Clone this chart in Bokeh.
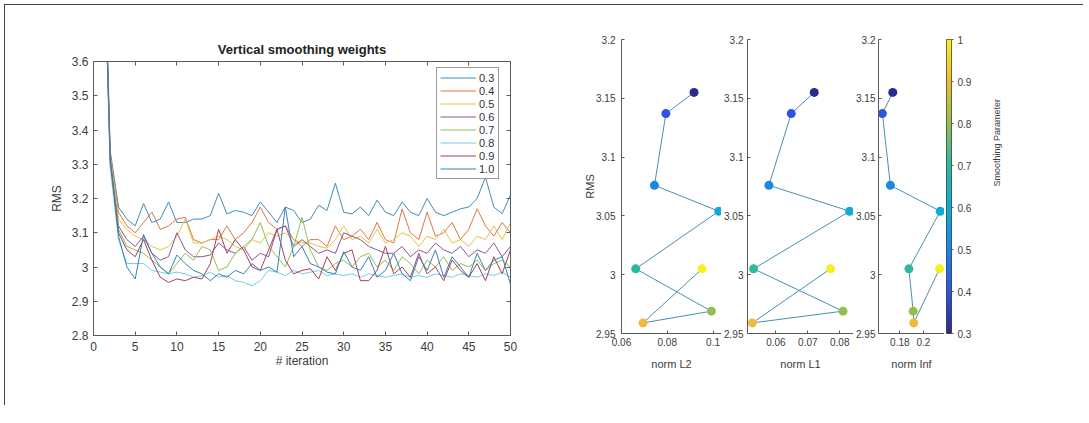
import math
import numpy as np
from bokeh.plotting import figure
from bokeh.models import (FixedTicker, LinearAxis, Range1d, Legend, LegendItem,
                          ColumnDataSource, LinearColorMapper, Spacer, NumeralTickFormatter,
                          CustomLabelingPolicy)
from bokeh.layouts import row, column
from bokeh.transform import linear_cmap
from bokeh.embed import file_html
from bokeh.resources import INLINE

# ---------------- data: left chart ----------------
iterations = list(range(1, 51))
series_names = ["0.3", "0.4", "0.5", "0.6", "0.7", "0.8", "0.9", "1.0"]

rms_w03 = [4.25, 3.34, 3.175, 3.14, 3.12, 3.185, 3.13, 3.14, 3.19, 3.13,
           3.13, 3.14, 3.14, 3.15, 3.215, 3.155, 3.165, 3.16, 3.15, 3.19,
           3.16, 3.13, 3.175, 3.165, 3.13, 3.14, 3.18, 3.165, 3.245, 3.16,
           3.155, 3.175, 3.15, 3.195, 3.16, 3.15, 3.19, 3.16, 3.15, 3.20,
           3.16, 3.15, 3.16, 3.17, 3.175, 3.20, 3.262, 3.175, 3.156, 3.21]
rms_w04 = [4.22, 3.33, 3.16, 3.12, 3.10, 3.13, 3.16, 3.11, 3.12, 3.14,
           3.145, 3.08, 3.07, 3.08, 3.08, 3.12, 3.08, 3.10, 3.13, 3.175,
           3.13, 3.11, 3.12, 3.08, 3.06, 3.08, 3.08, 3.06, 3.12, 3.08,
           3.09, 3.11, 3.08, 3.13, 3.08, 3.07, 3.17, 3.10, 3.08, 3.16,
           3.09, 3.10, 3.13, 3.08, 3.11, 3.17, 3.12, 3.09, 3.13, 3.10]
rms_w05 = [4.21, 3.32, 3.14, 3.11, 3.09, 3.08, 3.06, 3.05, 3.06, 3.09,
           3.14, 3.07, 3.07, 3.08, 3.09, 3.08, 3.06, 3.05, 3.08, 3.07,
           3.10, 3.09, 3.10, 3.08, 3.07, 3.07, 3.06, 3.055, 3.08, 3.12,
           3.08, 3.09, 3.07, 3.11, 3.07, 3.08, 3.10, 3.09, 3.06, 3.09,
           3.08, 3.11, 3.07, 3.08, 3.06, 3.09, 3.08, 3.12, 3.08, 3.13]
rms_w06 = [4.20, 3.31, 3.12, 3.08, 3.06, 3.09, 3.04, 3.02, 3.03, 3.10,
           3.05, 3.03, 3.03, 3.035, 3.07, 3.05, 3.04, 3.06, 3.02, 3.04,
           3.03, 3.11, 3.12, 3.06, 3.08, 3.06, 3.04, 3.05, 3.04, 3.10,
           3.09, 3.08, 3.06, 3.05, 3.04, 3.04, 3.06, 3.03, 3.05, 3.04,
           3.07, 3.05, 3.04, 3.06, 3.03, 3.05, 3.04, 3.07, 3.03, 3.06]
rms_w07 = [4.19, 3.30, 3.11, 3.06, 3.05, 3.04, 3.02, 3.00, 2.98, 3.01,
           3.04, 3.02, 3.06, 3.05, 2.99, 3.00, 3.04, 3.06, 3.08, 3.13,
           3.06, 3.03, 3.00, 3.06, 3.145, 3.05, 3.00, 2.99, 3.01, 3.02,
           3.00, 3.03, 3.04, 3.00, 3.02, 2.99, 3.03, 3.01, 2.98, 3.02,
           3.00, 3.03, 2.99, 3.01, 3.00, 3.02, 2.99, 3.01, 3.02, 3.00]
rms_w08 = [4.18, 3.29, 3.08, 3.01, 3.01, 3.01, 2.99, 2.985, 2.98, 2.985,
           2.98, 2.97, 2.975, 2.985, 2.97, 2.975, 2.96, 2.955, 2.945, 2.96,
           2.99, 2.985, 2.975, 2.99, 2.98, 2.985, 2.99, 2.975, 2.98, 2.975,
           2.98, 2.97, 2.98, 2.975, 2.97, 2.975, 2.98, 2.97, 2.975, 2.97,
           2.98, 2.975, 2.97, 2.98, 2.975, 2.97, 2.98, 2.975, 2.985, 2.97]
rms_w09 = [4.20, 3.31, 3.10, 3.05, 3.03, 3.08, 3.02, 2.97, 2.955, 2.965,
           2.96, 2.97, 2.965, 3.01, 3.11, 3.04, 3.08, 3.05, 3.00, 2.99,
           3.05, 3.11, 3.02, 2.98, 2.99, 2.995, 2.965, 3.03, 2.99, 3.04,
           3.05, 2.96, 2.96, 2.99, 3.06, 2.98, 3.00, 2.97, 3.04, 2.98,
           3.00, 2.96, 3.02, 2.99, 2.97, 3.01, 2.96, 3.03, 2.98, 3.05]
rms_w10 = [4.21, 3.32, 3.09, 3.00, 2.965, 3.095, 3.04, 3.00, 2.98, 3.035,
           3.01, 2.99, 2.98, 2.96, 2.98, 2.97, 2.99, 2.98, 3.01, 2.99,
           3.00, 2.985, 3.175, 3.03, 3.06, 3.01, 3.00, 2.985, 2.98, 3.045,
           3.00, 2.99, 3.03, 2.97, 2.99, 3.04, 2.98, 2.96, 3.03, 2.99,
           3.05, 2.97, 3.03, 3.00, 2.97, 3.04, 2.99, 3.02, 3.03, 2.95]

left_x_ticks = [0, 5, 10, 15, 20, 25, 30, 35, 40, 45, 50]
left_y_ticks = [2.8, 2.9, 3.0, 3.1, 3.2, 3.3, 3.4, 3.5, 3.6]

# ---------------- data: right panels ----------------
smoothing = [0.3, 0.4, 0.5, 0.6, 0.7, 0.8, 0.9, 1.0]
rms_final = [3.155, 3.137, 3.076, 3.054, 3.005, 2.969, 2.959, 3.005]
norm_l2 = [0.0917, 0.0794, 0.0744, 0.1025, 0.0662, 0.0993, 0.0694, 0.0952]
norm_l1 = [0.0720, 0.0648, 0.0578, 0.0831, 0.0530, 0.0810, 0.0526, 0.0771]
norm_inf = [0.1740, 0.1652, 0.1720, 0.2143, 0.1877, 0.1913, 0.1918, 0.2137]

rms_ticks = [2.95, 3.0, 3.05, 3.1, 3.15, 3.2]
l2_ticks = [0.06, 0.08, 0.1]
l1_ticks = [0.06, 0.07, 0.08]
inf_ticks = [0.18, 0.2]
cbar_ticks = [0.3, 0.4, 0.5, 0.6, 0.7, 0.8, 0.9, 1.0]

# axis limits (a little room where the markers touch the edge)
l2_limits = (0.06, 0.1037)
l1_limits = (0.0511, 0.0843)
inf_limits = (0.1619, 0.2179)

# ---------------- styles ----------------
FONT = "Liberation Sans"
AXC = "#5a5a5a"
TXC = "#3c3c3c"
H = 400
line_colors = ["#3f8cbd", "#d87a42", "#e6c048", "#8a5794", "#95bd52", "#79c8eb", "#a6405a", "#3483b6"]
anchor_cols = ["#2c2a8a", "#2f55e0", "#1e85e0", "#10aad6", "#2db99a", "#92bf50", "#f0b93a", "#f5f020"]


def hex2rgb(h):
    return np.array([int(h[i:i + 2], 16) for i in (1, 3, 5)], dtype=float)


anc = np.array([hex2rgb(c) for c in anchor_cols])
tt = np.linspace(0, 1, len(anchor_cols))
palette = []
for t in np.linspace(0, 1, 256):
    rgb = [np.interp(t, tt, anc[:, k]) for k in range(3)]
    palette.append("#%02x%02x%02x" % tuple(int(round(v)) for v in rgb))
mapper = LinearColorMapper(palette=palette, low=0.3, high=1.0)
fmt = NumeralTickFormatter(format="0.[000]")


def style_axis(ax, ticks, fsize, standoff, tick_in=4, tick_out=0):
    ax.ticker = FixedTicker(ticks=ticks, minor_ticks=[])
    ax.formatter = fmt
    ax.axis_line_color = AXC
    ax.major_tick_line_color = AXC
    ax.major_tick_in = tick_in
    ax.major_tick_out = tick_out
    ax.minor_tick_line_color = None
    ax.major_label_text_font = FONT
    ax.major_label_text_font_size = fsize
    ax.major_label_text_color = TXC
    ax.major_label_standoff = standoff
    ax.axis_label_text_font = FONT
    ax.axis_label_text_font_style = "normal"
    ax.axis_label_text_color = TXC


# ---------------- left line chart ----------------
pA = figure(width=555, height=H, x_range=Range1d(0, 50), y_range=Range1d(2.8, 3.6),
            output_backend="svg", toolbar_location=None,
            min_border_left=88, min_border_right=50, min_border_top=56, min_border_bottom=70)
pA.grid.visible = False
pA.outline_line_color = AXC
pA.title.text = "Vertical smoothing weights"
pA.title.align = "center"
pA.title.text_font = FONT
pA.title.text_font_size = "13px"
pA.title.text_font_style = "bold"
pA.title.text_color = "#222222"
pA.title.standoff = 2

all_series = [rms_w03, rms_w04, rms_w05, rms_w06, rms_w07, rms_w08, rms_w09, rms_w10]
rends = []
for ys, col in zip(all_series, line_colors):
    rends.append(pA.line(iterations, ys, line_color=col, line_width=1))

style_axis(pA.xaxis[0], left_x_ticks, "12px", 6)
style_axis(pA.yaxis[0], left_y_ticks, "12px", 5)
pA.xaxis.axis_label = "# iteration"
pA.xaxis.axis_label_text_font_size = "12px"
pA.xaxis.axis_label_standoff = 0
pA.yaxis.axis_label = "RMS"
pA.yaxis.axis_label_text_font_size = "12px"
pA.yaxis.axis_label_standoff = 5

# box ticks on the top and right edges (no labels)
for place, tks in (("right", left_y_ticks), ("above", left_x_ticks)):
    hide_labels = CustomLabelingPolicy(code="""
for (const i of indices)
    indices.unset(i)
return indices
""")
    ax_b = LinearAxis()
    style_axis(ax_b, tks, "1px", 0)
    ax_b.major_label_policy = hide_labels
    pA.add_layout(ax_b, place)

legend = Legend(items=[LegendItem(label=n, renderers=[r]) for n, r in zip(series_names, rends)],
                location=(343, 156), orientation="vertical")
legend.border_line_color = "#333333"
legend.border_line_width = 1
legend.background_fill_color = "white"
legend.background_fill_alpha = 1
legend.padding = 3
legend.margin = 0
legend.spacing = 0
legend.glyph_width = 36
legend.glyph_height = 13
legend.label_height = 13
legend.label_width = 16
legend.label_standoff = 3
legend.label_text_font = FONT
legend.label_text_font_size = "11px"
legend.label_text_color = "#333333"
legend.label_text_line_height = 1.0
pA.add_layout(legend)


# ---------------- right scatter panels ----------------
def make_panel(xvals, limits, xticks, xlabel, mbl, frame_w, mbr, ystandoff, ylabel=None):
    p = figure(width=mbl + frame_w + mbr, height=H, x_range=Range1d(*limits),
               y_range=Range1d(2.95, 3.2),
               output_backend="svg", toolbar_location=None,
               min_border_left=mbl, min_border_right=mbr, min_border_top=34, min_border_bottom=72)
    p.grid.visible = False
    p.outline_line_color = None
    src = ColumnDataSource(dict(x=xvals, y=rms_final, s=smoothing))
    p.line("x", "y", source=src, line_color="#4a8fb3", line_width=1)
    p.scatter("x", "y", source=src, size=9, line_color=None,
              fill_color=linear_cmap("s", palette, 0.3, 1.0))
    style_axis(p.xaxis[0], xticks, "10px", 4, tick_in=3)
    style_axis(p.yaxis[0], rms_ticks, "10px", ystandoff, tick_in=3)
    p.xaxis.axis_label = xlabel
    p.xaxis.axis_label_text_font_size = "11px"
    p.xaxis.axis_label_standoff = 9
    if ylabel:
        p.yaxis.axis_label = ylabel
        p.yaxis.axis_label_text_font_size = "11px"
        p.yaxis.axis_label_standoff = -3
    return p


pB = make_panel(norm_l2, l2_limits, l2_ticks, "norm L2", 61, 100, 0, 6, ylabel="RMS")
pC = make_panel(norm_l1, l1_limits, l1_ticks, "norm L1", 24, 108, 0, 4)
pD = make_panel(norm_inf, inf_limits, inf_ticks, "norm Inf", 23, 68, 0, 3)

# ---------------- colorbar ----------------
pE = figure(width=72, height=H, x_range=Range1d(0, 1), y_range=Range1d(0.3, 1.0),
            y_axis_location="right", output_backend="svg", toolbar_location=None,
            min_border_left=2, min_border_right=65, min_border_top=34, min_border_bottom=72)
pE.grid.visible = False
pE.xaxis.visible = False
pE.outline_line_color = "#444444"
pE.image(image=[np.linspace(0.3, 1.0, 256).reshape(256, 1)], x=0, y=0.3, dw=1, dh=0.7,
         color_mapper=mapper)
style_axis(pE.yaxis[0], cbar_ticks, "10px", 4, tick_in=0, tick_out=2)
pE.yaxis.axis_line_color = None
pE.yaxis.axis_label = "Smoothing Parameter"
pE.yaxis.axis_label_text_font_size = "9px"
pE.yaxis.axis_label_standoff = 23
try:
    pE.yaxis[0].axis_label_orientation = math.pi / 2
except Exception:
    pass

layout = row(column(pA), column(pB), column(pC), column(pD), column(pE), Spacer(width=67, height=H),
             styles={"border-top": "1px solid #444444", "border-left": "1px solid #444444",
                     "margin-left": "4px", "margin-top": "4px"})

open("out.html", "w").write(file_html(layout, INLINE))
